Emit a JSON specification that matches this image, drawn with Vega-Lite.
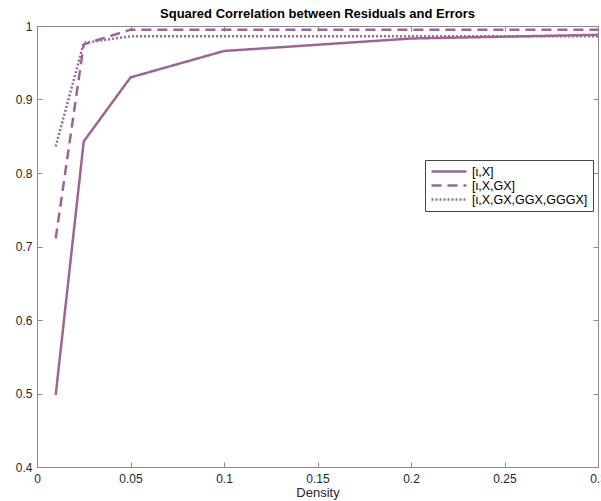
{
  "$schema": "https://vega.github.io/schema/vega-lite/v6.json",
  "width": 561,
  "height": 441,
  "autosize": "none",
  "padding": {"left": 37, "top": 26, "right": 3, "bottom": 34},
  "background": "white",
  "config": {
    "font": "Liberation Sans",
    "view": {"stroke": "#8a8a8a", "strokeWidth": 1},
    "axis": {
      "grid": false,
      "domainColor": "#8a8a8a",
      "tickColor": "#8a8a8a",
      "tickSize": -5,
      "labelColor": "#262626",
      "labelFont": "Liberation Sans",
      "labelFontSize": 12,
      "titleFont": "Liberation Sans",
      "titleFontSize": 13,
      "titleFontWeight": "normal",
      "titleColor": "#262626"
    }
  },
  "title": {
    "text": "Squared Correlation between Residuals and Errors",
    "font": "Liberation Sans",
    "fontSize": 13,
    "fontWeight": "bold",
    "color": "#000000",
    "anchor": "middle",
    "frame": "group",
    "offset": -1
  },
  "data": {
    "values": [
      {"series": "[ι,X]", "density": 0.01, "corr": 0.498},
      {"series": "[ι,X]", "density": 0.025, "corr": 0.843},
      {"series": "[ι,X]", "density": 0.05, "corr": 0.930},
      {"series": "[ι,X]", "density": 0.1, "corr": 0.966},
      {"series": "[ι,X]", "density": 0.2, "corr": 0.983},
      {"series": "[ι,X]", "density": 0.3, "corr": 0.988},
      {"series": "[ι,X,GX]", "density": 0.01, "corr": 0.711},
      {"series": "[ι,X,GX]", "density": 0.025, "corr": 0.975},
      {"series": "[ι,X,GX]", "density": 0.05, "corr": 0.995},
      {"series": "[ι,X,GX]", "density": 0.1, "corr": 0.995},
      {"series": "[ι,X,GX]", "density": 0.2, "corr": 0.995},
      {"series": "[ι,X,GX]", "density": 0.3, "corr": 0.995},
      {"series": "[ι,X,GX,GGX,GGGX]", "density": 0.01, "corr": 0.836},
      {"series": "[ι,X,GX,GGX,GGGX]", "density": 0.025, "corr": 0.977},
      {"series": "[ι,X,GX,GGX,GGGX]", "density": 0.05, "corr": 0.986},
      {"series": "[ι,X,GX,GGX,GGGX]", "density": 0.1, "corr": 0.986},
      {"series": "[ι,X,GX,GGX,GGGX]", "density": 0.2, "corr": 0.986},
      {"series": "[ι,X,GX,GGX,GGGX]", "density": 0.3, "corr": 0.986}
    ]
  },
  "resolve": {"axis": {"x": "independent", "y": "independent"}},
  "layer": [
    {
      "mark": {"type": "line", "color": "#9c6595", "strokeWidth": 2.5, "clip": true},
      "encoding": {
        "x": {
          "field": "density", "type": "quantitative",
          "scale": {"domain": [0, 0.3], "nice": false},
          "axis": {"title": "Density", "format": "~g", "values": [0, 0.05, 0.1, 0.15, 0.2, 0.25, 0.3], "labelPadding": 11, "titlePadding": 2, "labelFlush": false, "labelOverlap": false}
        },
        "y": {
          "field": "corr", "type": "quantitative",
          "scale": {"domain": [0.4, 1], "nice": false, "zero": false},
          "axis": {"title": null, "format": "~g", "values": [0.4, 0.5, 0.6, 0.7, 0.8, 0.9, 1], "labelPadding": 10, "labelFlush": false, "labelOverlap": false}
        },
        "detail": {"field": "series"},
        "strokeDash": {
          "field": "series", "type": "nominal",
          "scale": {
            "domain": ["[ι,X]", "[ι,X,GX]", "[ι,X,GX,GGX,GGGX]"],
            "range": [[1, 0], [10, 6], [2, 2]]
          },
          "legend": {
            "title": null,
            "orient": "none",
            "legendX": 388,
            "legendY": 134,
            "symbolType": "stroke",
            "symbolSize": 1225,
            "symbolStrokeColor": "#9c6595",
            "symbolStrokeWidth": 2.5,
            "clipHeight": 13,
            "labelFontSize": 12.5,
            "labelColor": "#000000",
            "labelFont": "Liberation Sans",
            "strokeColor": "#444444",
            "fillColor": "white",
            "padding": 5,
            "rowPadding": 1,
            "labelOffset": 4
          }
        }
      }
    },
    {
      "mark": {"type": "line", "opacity": 0},
      "encoding": {
        "x": {
          "field": "density", "type": "quantitative",
          "axis": {"orient": "top", "title": null, "labels": false, "values": [0, 0.05, 0.1, 0.15, 0.2, 0.25, 0.3]}
        },
        "y": {
          "field": "corr", "type": "quantitative",
          "axis": {"orient": "right", "title": null, "labels": false, "values": [0.4, 0.5, 0.6, 0.7, 0.8, 0.9, 1]}
        },
        "detail": {"field": "series"}
      }
    }
  ]
}
